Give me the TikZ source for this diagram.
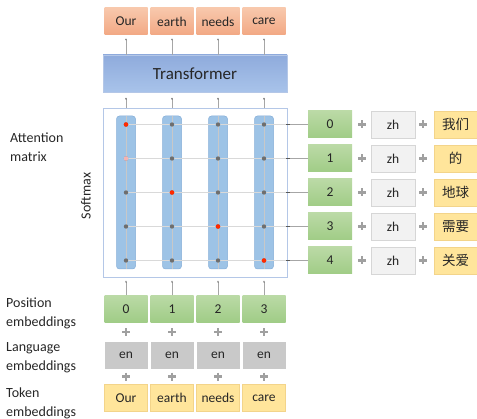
\documentclass[tikz,border=0pt]{standalone}
\usepackage{fontspec}
\setmainfont{Carlito}
\newfontfamily\cjk{Noto Sans CJK SC}
\usetikzlibrary{arrows.meta,calc}
\definecolor{txt}{HTML}{262626}
\definecolor{salmonT}{HTML}{F8C8AC}
\definecolor{salmonB}{HTML}{F2A884}
\definecolor{transT}{HTML}{8FABDC}
\definecolor{transB}{HTML}{A8C3EA}
\definecolor{transD}{HTML}{B4C7E7}
\definecolor{barF}{HTML}{9DC3E6}
\definecolor{barD}{HTML}{86AED8}
\definecolor{greenT}{HTML}{BBDAA6}
\definecolor{greenB}{HTML}{A0CC86}
\definecolor{enF}{HTML}{C9C9C9}
\definecolor{zhF}{HTML}{F2F2F2}
\definecolor{zhD}{HTML}{D6D6D6}
\definecolor{yelF}{HTML}{FFE59B}
\definecolor{yelD}{HTML}{F3D48A}
\definecolor{conn}{HTML}{A6A6A6}
\definecolor{grid}{HTML}{D9D9D9}
\definecolor{dotG}{HTML}{6E6E6E}
\definecolor{dotR}{HTML}{FF2A00}
\definecolor{dotP}{HTML}{F4B4B4}
\definecolor{plusC}{HTML}{A0A0A0}
\tikzset{
  cell/.style={minimum width=43pt,minimum height=27pt,inner sep=0pt,text=txt,font=\fontsize{13.5}{15}\selectfont},
  outbox/.style={cell,top color=salmonT,bottom color=salmonB},
  posbox/.style={cell,top color=greenT,bottom color=greenB},
  langbox/.style={cell,fill=enF},
  zhbox/.style={cell,fill=zhF,draw=zhD,line width=0.6pt},
  tokbox/.style={cell,fill=yelF,draw=yelD,line width=0.6pt},
  cjkbox/.style={tokbox,font=\cjk\fontsize{13.5}{15}\selectfont},
  lbl/.style={anchor=west,align=left,text=txt,font=\fontsize{14}{19}\selectfont,inner sep=0pt},
  upconn/.style={draw=conn,line width=0.6pt,-{Latex[length=2pt,width=1.6pt,color=black!70]}},
  gridline/.style={draw=grid,line width=0.8pt},
  dotg/.style={circle,fill=dotG,inner sep=0pt,minimum size=4.4pt},
  dotr/.style={circle,fill=dotR,inner sep=0pt,minimum size=4.6pt},
  dotp/.style={circle,fill=dotP,inner sep=0pt,minimum size=4.6pt},
}
\newcommand{\pluss}[1]{\draw[plusC,line width=2.4pt] ($(#1)+(-4,0)$) -- ($(#1)+(4,0)$) ($(#1)+(0,-4)$) -- ($(#1)+(0,4)$);}
\begin{document}
\begin{tikzpicture}[x=1pt,y=-1pt]
\useasboundingbox (0,0) rectangle (477,419);
% column xs
\def\cA{126}\def\cB{172}\def\cC{218}\def\cD{264}
% top output boxes
\node[outbox] (o1) at (\cA,21.5) {Our};
\node[outbox] (o2) at (\cB,21.5) {earth};
\node[outbox] (o3) at (\cC,21.5) {needs};
\node[outbox] (o4) at (\cD,21.5) {care};
% transformer
\node[top color=transT,bottom color=transB,draw=transD,line width=0.6pt,minimum width=184pt,minimum height=37pt,inner sep=0pt,text=txt,font=\fontsize{17}{20}\selectfont] (tr) at (195,73.5) {Transformer};
% matrix box
\node[draw=transD,line width=0.9pt,minimum width=184pt,minimum height=169pt,inner sep=0pt] (mat) at (195,192.5) {};
% bars
\foreach \i/\x in {1/\cA,2/\cB,3/\cC,4/\cD}{
  \node[fill=barF,draw=barD,line width=0.5pt,rounded corners=3pt,minimum width=19pt,minimum height=153pt,inner sep=0pt] (bar\i) at (\x,192.5) {};
}
% right embedding rows
\foreach \r/\y/\ch in {0/124.5/我们,1/158.5/的,2/192.5/地球,3/226.5/需要,4/260.5/关爱}{
  \node[posbox,minimum width=44pt] (g\r) at (330,\y) {\r};
  \node[zhbox,minimum width=44pt] (z\r) at (393,\y) {zh};
  \node[cjkbox] (c\r) at (455.5,\y) {\ch};
  \coordinate (pa\r) at (362,\y);
  \coordinate (pb\r) at (423,\y);
}
% grid lines
\foreach \r in {0,...,4}{
  \draw[gridline] (bar1.center |- g\r.west) -- (mat.east |- g\r.west);
  \draw[conn,line width=0.6pt] (mat.east |- g\r.west) -- (g\r.west);
  \draw[black!65,line width=0.7pt] ($(mat.east |- g\r.west)+(-1,0)$) -- ($(mat.east |- g\r.west)+(3,0)$);
}
\foreach \i in {1,...,4}{
  \draw[draw=grid!92!black,line width=0.5pt] (bar\i.north) -- (bar\i.south);
}
% dots
\foreach \i in {1,...,4}{
  \foreach \r in {0,...,4}{
    \node[dotg] (d\i\r) at (bar\i.center |- g\r.west) {};
  }
}
\node[dotr] at (d10) {};
\node[dotp] at (d11) {};
\node[dotr] at (d22) {};
\node[dotr] at (d33) {};
\node[dotr] at (d44) {};
% bottom embeddings
\node[posbox] (p1) at (\cA,309) {0};
\node[posbox] (p2) at (\cB,309) {1};
\node[posbox] (p3) at (\cC,309) {2};
\node[posbox] (p4) at (\cD,309) {3};
\node[langbox] (l1) at (\cA,355.5) {en};
\node[langbox] (l2) at (\cB,355.5) {en};
\node[langbox] (l3) at (\cC,355.5) {en};
\node[langbox] (l4) at (\cD,355.5) {en};
\node[tokbox] (t1) at (\cA,398) {Our};
\node[tokbox] (t2) at (\cB,398) {earth};
\node[tokbox] (t3) at (\cC,398) {needs};
\node[tokbox] (t4) at (\cD,398) {care};
% connectors
\foreach \i in {1,...,4}{
  \draw[upconn] (o\i.south |- tr.north) -- ($(o\i.south)+(0,3)$);
  \draw[upconn] (bar\i.north |- mat.north) -- ($(bar\i.north |- tr.south)+(0,5)$);
  \draw[upconn] (p\i.north) -- ($(p\i.north |- mat.south)+(0,3)$);
}
% plus signs
\foreach \i in {1,...,4}{
  \coordinate (q\i) at ($(p\i.south)!0.5!(l\i.north)$);
  \coordinate (s\i) at ($(l\i.south)!0.5!(t\i.north)$);
  \pluss{q\i}
  \pluss{s\i}
}
\foreach \r in {0,...,4}{
  \pluss{pa\r}
  \pluss{pb\r}
}
% labels
\node[lbl] (labA) at (10,147) {Attention\\matrix};
\node[rotate=90,text=txt,font=\fontsize{14}{17}\selectfont,inner sep=0pt] (labS) at (86,196) {Softmax};
\node[lbl] (labP) at (6,313) {Position\\embeddings};
\node[lbl] (labL) at (6,358) {Language\\embeddings};
\node[lbl] (labT) at (6,403) {Token\\embeddings};
\end{tikzpicture}
\end{document}
